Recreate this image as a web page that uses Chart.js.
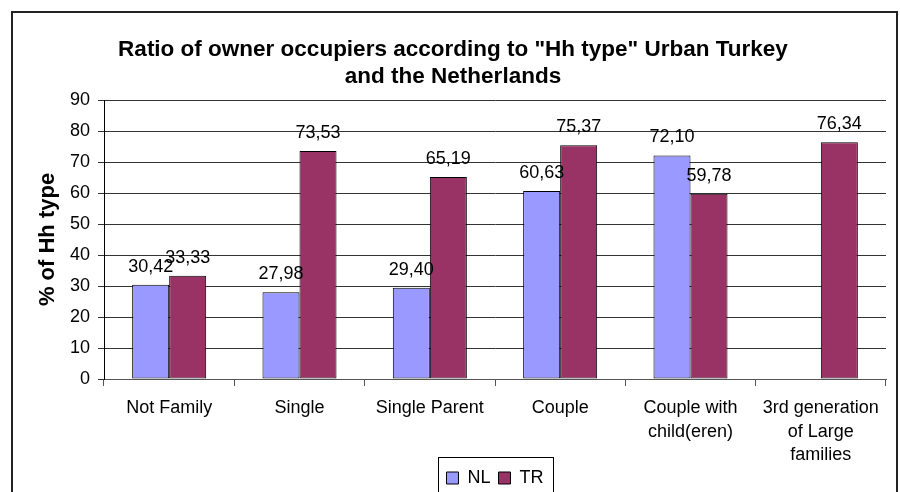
<!DOCTYPE html>
<html>
<head>
<meta charset="utf-8">
<script src="https://cdn.jsdelivr.net/npm/chart.js@4"></script>
<style>
  body { margin: 0; background: #fff; }
  canvas { display: block; }
</style>
</head>
<body>
<canvas id="barChart" width="900" height="492"></canvas>
<script>
const categories = [
  "Not Family",
  "Single",
  "Single Parent",
  "Couple",
  ["Couple with", "child(eren)"],
  ["3rd generation", "of Large", "families"],
];
const nlValues = [30.42, 27.98, 29.4, 60.63, 72.1, null];
const trValues = [33.33, 73.53, 65.19, 75.37, 59.78, 76.34];
const yTicks = [0, 10, 20, 30, 40, 50, 60, 70, 80, 90];

const FONT = "'Liberation Sans', Arial, sans-serif";

// value labels above bars, decimal comma like the original
const valueLabels = {
  id: "valueLabels",
  afterDatasetsDraw(chart) {
    const ctx = chart.ctx;
    ctx.save();
    ctx.font = `18px ${FONT}`;
    ctx.fillStyle = "#000";
    ctx.textAlign = "center";
    ctx.textBaseline = "middle";
    chart.data.datasets.forEach((ds, i) => {
      chart.getDatasetMeta(i).data.forEach((bar, j) => {
        const v = ds.data[j];
        if (v == null) return;
        ctx.fillText(v.toFixed(2).replace(".", ","), bar.x, bar.y - 18);
      });
    });
    ctx.restore();
  },
};

// let the 3-line category label run past the x scale box (it is clipped otherwise)
const unclipX = {
  id: "unclipX",
  afterLayout(chart) {
    chart.scales.x.bottom = chart.height;
  },
};

// outer frame and legend box
const frames = {
  id: "frames",
  afterDraw(chart) {
    const ctx = chart.ctx;
    ctx.save();
    ctx.strokeStyle = "#222";
    ctx.lineWidth = 2;
    ctx.strokeRect(12, 12, 885, 500);
    const boxes = chart.legend.legendHitBoxes;
    if (boxes && boxes.length) {
      const first = boxes[0];
      const last = boxes[boxes.length - 1];
      ctx.lineWidth = 1;
      ctx.strokeStyle = "#000";
      const x0 = Math.round(first.left - 8) + 0.5;
      const x1 = Math.round(last.left + last.width + 9) + 0.5;
      const y0 = 457.5;
      ctx.strokeRect(x0, y0, x1 - x0, 60);
    }
    ctx.restore();
  },
};

const ctx = document.getElementById("barChart").getContext("2d");
new Chart(ctx, {
  type: "bar",
  data: {
    labels: categories,
    datasets: [
      {
        label: "NL",
        data: nlValues,
        backgroundColor: "#9999FF",
        borderColor: "#000",
        borderWidth: 1,
        borderSkipped: false,
      },
      {
        label: "TR",
        data: trValues,
        backgroundColor: "#993366",
        borderColor: "#000",
        borderWidth: 1,
        borderSkipped: false,
      },
    ],
  },
  options: {
    responsive: false,
    animation: false,
    categoryPercentage: 0.568,
    barPercentage: 1,
    layout: {
      padding: { top: 20, left: 20, right: 14, bottom: -5 },
    },
    scales: {
      x: {
        grid: {
          drawOnChartArea: false,
          tickLength: 7,
          color: "#555",
        },
        border: { color: "#555" },
        ticks: {
          color: "#000",
          padding: 11,
          maxRotation: 0,
          autoSkip: false,
          font: { family: FONT, size: 18, lineHeight: 1.28 },
        },
        afterFit(scale) {
          scale.height = 82;
        },
      },
      y: {
        min: 0,
        max: 90,
        afterBuildTicks(scale) {
          scale.ticks = yTicks.map((v) => ({ value: v }));
        },
        grid: { color: "#333", tickLength: 6 },
        border: { color: "#000" },
        ticks: {
          color: "#000",
          padding: 8,
          font: { family: FONT, size: 18 },
        },
        title: {
          display: true,
          text: "% of Hh type",
          color: "#000",
          padding: { top: 15, bottom: 0 },
          font: { family: FONT, size: 22, weight: "bold", lineHeight: 1.2 },
        },
        afterFit(scale) {
          scale.width = 84;
        },
      },
    },
    plugins: {
      title: {
        display: true,
        text: [
          'Ratio of owner occupiers according to "Hh type" Urban Turkey',
          "and the Netherlands",
        ],
        color: "#000",
        padding: { top: 16, bottom: 10 },
        font: { family: FONT, size: 22.5, weight: "bold", lineHeight: 1.2 },
      },
      legend: {
        position: "bottom",
        fullSize: false,
        labels: {
          color: "#000",
          boxWidth: 12,
          boxHeight: 12,
          padding: 8,
          font: { family: FONT, size: 18 },
        },
      },
      tooltip: { enabled: false },
    },
  },
  plugins: [valueLabels, unclipX, frames],
});
</script>
</body>
</html>
